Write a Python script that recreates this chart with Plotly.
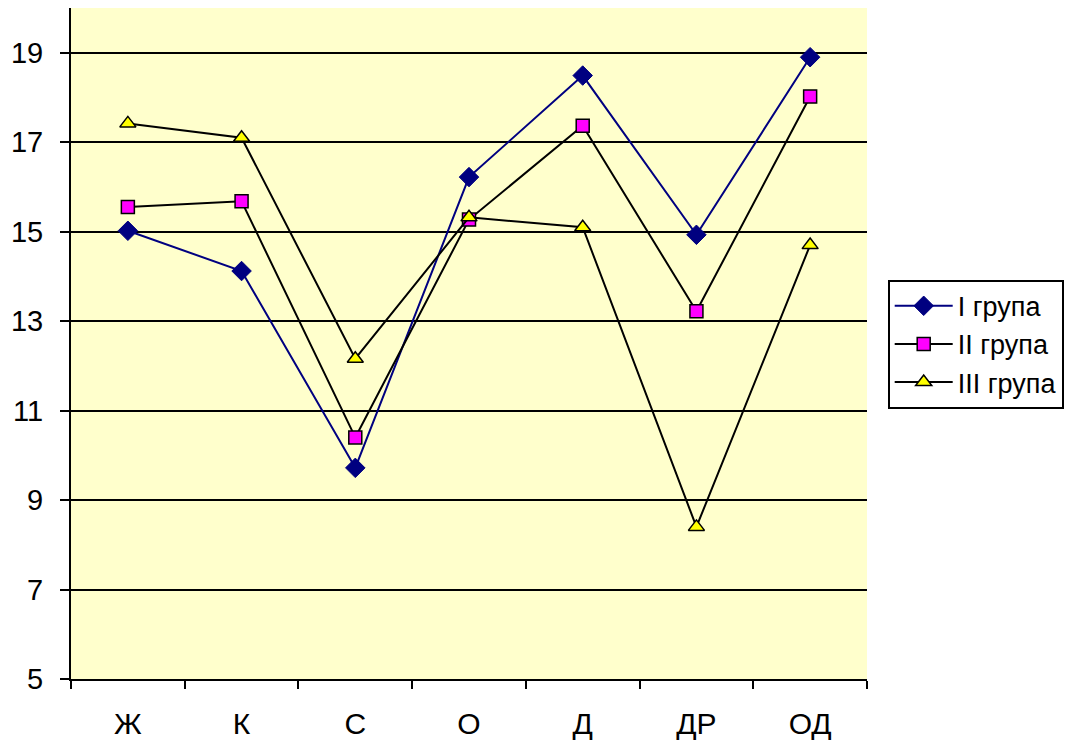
import plotly.graph_objects as go

categories = ["Ж", "К", "С", "О", "Д", "ДР", "ОД"]
group1 = [15.02, 14.12, 9.72, 16.22, 18.49, 14.93, 18.9]
group2 = [15.55, 15.68, 10.4, 15.27, 17.37, 13.22, 18.02]
group3 = [17.42, 17.1, 12.16, 15.32, 15.1, 8.4, 14.7]
names = ["I група", "II група", "III група"]

fig = go.Figure()
fig.add_trace(go.Scatter(x=categories, y=group1, name=names[0], mode="lines+markers",
                         line=dict(color="#000080", width=2),
                         marker=dict(symbol="diamond", size=15, color="#000080",
                                     line=dict(color="#000080", width=1))))
fig.add_trace(go.Scatter(x=categories, y=group2, name=names[1], mode="lines+markers",
                         line=dict(color="#000000", width=2),
                         marker=dict(symbol="square", size=13, color="#FF00FF",
                                     line=dict(color="#000000", width=1.5))))
fig.add_trace(go.Scatter(x=categories, y=group3, name=names[2], mode="lines+markers",
                         line=dict(color="#000000", width=2),
                         marker=dict(symbol="triangle-up", size=14, color="#FFFF00",
                                     line=dict(color="#000000", width=1.5))))

fig.update_layout(
    width=1072, height=745,
    margin=dict(l=71, r=205, t=8, b=66),
    paper_bgcolor="white",
    plot_bgcolor="#FFFFCC",
    font=dict(family="Liberation Sans, Arial", color="#000000"),
    showlegend=True,
    legend=dict(x=1.026, y=0.595, xanchor="left", yanchor="top",
                bordercolor="#000000", borderwidth=2, bgcolor="white",
                font=dict(size=27), tracegroupgap=0, itemwidth=58),
)
fig.update_xaxes(type="category", tickson="boundaries", ticks="outside", ticklen=8,
                 tickcolor="#000000", tickwidth=2, showline=True, linecolor="#000000",
                 linewidth=2, showgrid=False, tickfont=dict(size=30), range=[-0.5, 6.5],
                 ticklabelstandoff=17, automargin=False)
fig.update_yaxes(range=[5, 20], tickvals=[5, 7, 9, 11, 13, 15, 17, 19], ticks="outside",
                 ticklen=9, tickcolor="#000000", tickwidth=2, showline=True,
                 linecolor="#000000", linewidth=2, showgrid=True, gridcolor="#000000",
                 gridwidth=2, zeroline=False, tickfont=dict(size=29),
                 ticklabelstandoff=11, automargin=False)

fig.write_html("out.html")
